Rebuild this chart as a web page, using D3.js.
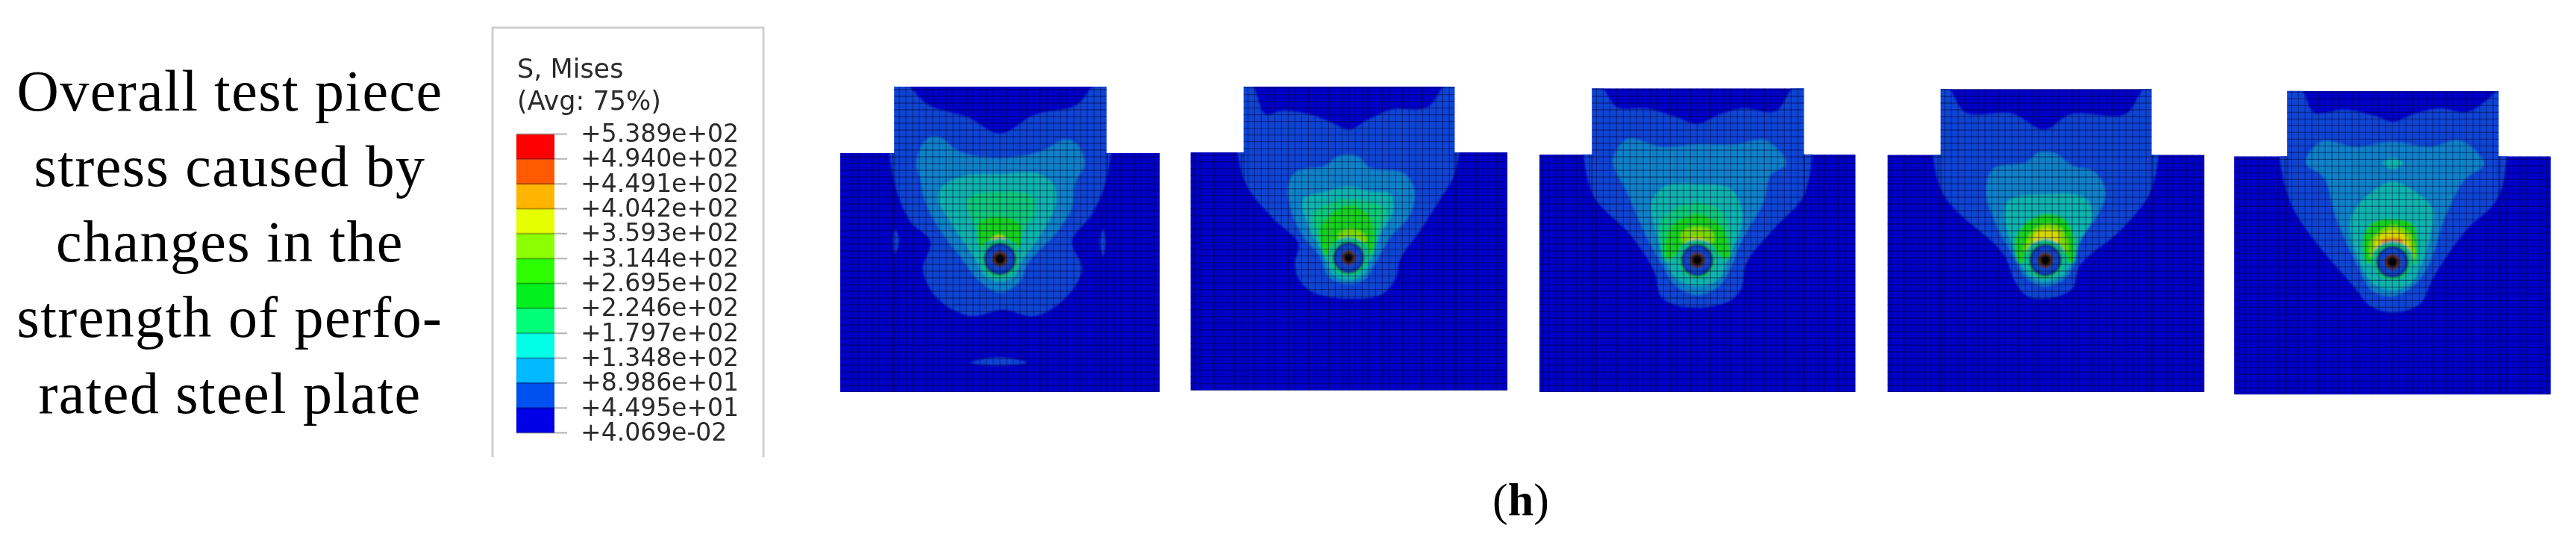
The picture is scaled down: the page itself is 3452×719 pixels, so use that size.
<!DOCTYPE html>
<html><head><meta charset="utf-8">
<script src="https://cdn.jsdelivr.net/npm/d3@7/dist/d3.min.js"></script>
<style>html,body{margin:0;background:#fff;overflow:hidden}</style></head>
<body><svg id="c" width="3452" height="719"></svg>
<script>
const captionLines = ["Overall test piece","stress caused by","changes in the","strength of perfo-","rated steel plate"];
const legendTitle = ["S, Mises","(Avg: 75%)"];
const legendTicks = ["+5.389e+02","+4.940e+02","+4.491e+02","+4.042e+02","+3.593e+02","+3.144e+02","+2.695e+02","+2.246e+02","+1.797e+02","+1.348e+02","+8.986e+01","+4.495e+01","+4.069e-02"];
const legendColors = ["#ff0000","#ff5a00","#ffb400","#e6ff00","#8cff00","#2dff00","#00f01e","#00ff78","#00ffe6","#00b9ff","#0050f0","#0000e6"];
// stress band fill for each contour level (level 0 is the lowest band)
const levelColors = ["#0000c8","#0a44d4","#0a82c8","#08b4ac","#0cc878","#14d01c","#7cd800","#d8d800","#f08000"];
const panelOrigins = [[1100,90],[1570,90],[2040,90],[2510,90],[2970,90]];
// outline: stem left, right, top, shoulder y, plate left, right, bottom; hole: cx, cy, r
const outlines = [[295,1148,78,345,78,1362,1305],[290,1138,78,342,76,1350,1298],[280,1132,85,350,68,1340,1305],[272,1120,88,352,58,1332,1305],[285,1135,95,358,72,1345,1315]];
const holes = [[720,770,62],[712,765,60],[703,775,62],[693,775,62],[708,782,62]];
const panel1 = [
 [1,[[295,70],[340,70],[430,150],[590,200],[720,265],[860,190],[1030,150],[1105,70],[1150,70],[1148,450],[1090,590],[1010,700],[1050,810],[990,920],[860,1000],[730,975],[600,1000],[460,920],[410,810],[440,700],[360,620],[295,460]]],
 [1,[[298,650],[315,690],[298,750],[290,700]]],[1,[[1135,650],[1145,700],[1135,760],[1122,700]]],
 [1,[[600,1187],[715,1165],[830,1187],[715,1198]]],
 [2,[[430,285],[470,280],[560,340],[720,365],[880,340],[990,290],[1030,310],[1060,385],[1020,470],[1010,560],[950,660],[830,790],[800,860],[720,905],[640,860],[560,760],[470,640],[420,540],[400,450],[385,380]]],
 [3,[[480,490],[560,440],[720,430],[880,430],[935,470],[945,540],[880,680],[800,790],[780,840],[720,860],[660,840],[620,770],[520,620],[475,540]]],
 [4,[[590,530],[720,500],[850,520],[860,570],[800,680],[740,760],[700,760],[640,680]]],
 [5,[[640,620],[720,600],[800,630],[790,740],[720,700],[650,740]]],
 [7,[[685,690],[720,675],[745,690],[740,705],[690,705]]]];
const panel2 = [
 [1,[[290,70],[320,70],[380,190],[440,175],[560,190],[650,225],[712,250],[790,210],[880,170],[1030,160],[1105,70],[1138,70],[1138,430],[1080,530],[990,670],[920,770],[900,850],[850,910],[712,930],[560,900],[510,850],[495,790],[510,710],[410,610],[290,450]]],
 [2,[[470,470],[500,420],[620,395],[665,360],[712,350],[760,365],[790,400],[940,430],[975,490],[960,590],[880,680],[810,800],[780,850],[712,870],[640,850],[590,750],[530,680],[480,570]]],
 [3,[[530,530],[620,500],[712,480],[800,500],[880,510],[890,580],[840,670],[800,780],[770,835],[712,855],[650,835],[610,750],[550,640]]],
 [4,[[570,590],[650,540],[712,530],[790,540],[860,570],[830,660],[795,770],[712,700],[625,770],[590,680]]],
 [5,[[600,640],[712,555],[790,590],[810,640],[795,760],[712,700],[625,760]]],
 [6,[[670,670],[712,650],[770,665],[785,695],[712,700],[675,695]]]];
const panel3 = [
 [1,[[280,78],[315,78],[380,160],[500,165],[620,200],[703,228],[790,190],[880,165],[1020,175],[1095,78],[1132,78],[1132,515],[1020,640],[900,790],[880,890],[840,935],[720,965],[600,950],[560,925],[530,820],[440,680],[280,505]]],
 [2,[[365,370],[420,290],[560,320],[703,310],[860,310],[980,295],[1060,390],[1000,430],[970,540],[880,700],[840,800],[790,880],[703,915],[620,880],[560,790],[500,680],[420,500]]],
 [3,[[520,540],[570,480],[703,470],[840,490],[880,560],[880,640],[830,760],[790,850],[703,880],[620,850],[575,770],[540,670]]],
 [4,[[560,620],[610,570],[703,545],[790,570],[830,640],[830,770],[703,720],[580,780]]],
 [5,[[590,650],[703,590],[800,640],[830,770],[703,700],[580,770]]],
 [6,[[640,665],[703,640],[760,655],[770,700],[703,710],[640,700]]],
 [7,[[670,690],[703,680],[735,690],[730,705],[675,705]]]];
const panel4 = [
 [1,[[272,80],[298,80],[370,180],[560,185],[690,250],[790,190],[1020,185],[1095,80],[1120,80],[1120,490],[1000,650],[830,800],[800,890],[700,930],[620,920],[570,860],[530,760],[272,490]]],
 [2,[[455,500],[480,410],[620,380],[660,345],[730,345],[800,395],[890,420],[935,500],[900,600],[840,680],[810,790],[770,850],[693,880],[620,850],[570,770],[490,620]]],
 [3,[[530,610],[540,540],[693,510],[860,530],[880,610],[830,700],[800,780],[760,840],[693,860],[630,840],[580,760]]],
 [5,[[570,700],[620,620],[693,590],[770,610],[810,690],[800,790],[693,700],[590,790]]],
 [6,[[630,670],[693,630],[760,650],[780,740],[693,710],[610,740]]],
 [7,[[650,670],[693,650],[745,665],[750,700],[693,705],[645,700]]]];
const panel5 = [
 [1,[[285,88],[340,88],[390,180],[520,170],[640,195],[708,218],[800,185],[900,165],[1010,180],[1090,130],[1135,90],[1135,520],[1000,660],[870,850],[820,950],[708,985],[620,960],[560,890],[285,510]]],
 [2,[[360,385],[420,300],[560,320],[708,300],[860,320],[980,295],[1075,390],[1000,450],[920,600],[850,800],[790,880],[708,920],[630,900],[560,780],[480,600],[430,440]]],
 [3,[[540,610],[640,490],[708,460],[800,500],[870,570],[860,680],[820,800],[780,870],[708,895],[630,870],[580,790]]],
 [3,[[670,385],[710,365],[750,385],[710,410]]],
 [5,[[590,700],[620,630],[708,610],[790,630],[810,730],[800,790],[708,700],[610,790]]],
 [6,[[620,700],[708,635],[780,670],[795,770],[708,710],[625,770]]],
 [7,[[640,695],[708,655],[765,680],[775,740],[708,710],[645,740]]],
 [8,[[660,700],[708,685],[750,695],[745,715],[670,715]]]];
const panels = [panel1,panel2,panel3,panel4,panel5];

const svg = d3.select("#c");
const defs = svg.append("defs");
defs.append("filter").attr("id","soft").attr("x","-5%").attr("y","-5%").attr("width","110%").attr("height","110%")
  .append("feGaussianBlur").attr("stdDeviation",1.6);
defs.append("filter").attr("id","edge").append("feGaussianBlur").attr("stdDeviation",0.6);
defs.append("filter").attr("id","txt").attr("x","-5%").attr("y","-20%").attr("width","110%").attr("height","140%")
  .append("feGaussianBlur").attr("stdDeviation",0.7);

// caption
const capY = d3.scalePoint().domain(captionLines).range([148,552.5]);
svg.append("g").selectAll("text").data(captionLines).join("text")
  .attr("x",308).attr("y",d=>capY(d)).attr("text-anchor","middle")
  .attr("font-family","'Liberation Serif',serif").attr("font-size",78).attr("letter-spacing",1.4).attr("fill","#000").text(d=>d);

// legend
const leg = svg.append("g");
leg.append("path").attr("d",d3.line()([[660,612],[660,37],[1023,37],[1023,612]]))
  .attr("fill","none").attr("stroke","#cfcfcf").attr("stroke-width",3);
const legBand = d3.scaleBand().domain(legendColors).range([180,579]);
leg.append("g").selectAll("rect").data(legendColors).join("rect")
  .attr("x",692).attr("width",51).attr("y",d=>legBand(d)).attr("height",legBand.bandwidth()+0.5).attr("fill",d=>d);
const legY = d3.scalePoint().domain(legendTicks).range([179,579]);
const axis = leg.append("g").attr("transform","translate(760,0)")
  .call(d3.axisRight(legY).tickSize(-68).tickPadding(18));
axis.select(".domain").remove();
axis.selectAll("line").attr("stroke","rgba(0,0,0,0.3)").attr("stroke-width",2);
axis.selectAll("text").attr("font-family","'DejaVu Sans'").attr("font-size",33).attr("fill","#2a2a2a").attr("filter","url(#txt)");
leg.append("g").selectAll("text").data(legendTitle).join("text")
  .attr("x",693).attr("y",(d,i)=>i?147:104).attr("font-family","'DejaVu Sans'").attr("font-size",35)
  .attr("fill","#2a2a2a").attr("filter","url(#txt)").text(d=>d);

// contour panels
panels.forEach((contours,k)=>{
  const [ox,oy] = panelOrigins[k];
  const x = d3.scaleLinear().domain([0,1440]).range([ox,ox+480]);
  const y = d3.scaleLinear().domain([0,1380]).range([oy,oy+460]);
  const [sl,sr,st,sh,pl,pr,pb] = outlines[k];
  const outline = d3.line().x(d=>x(d[0])).y(d=>y(d[1]))([[sl,st],[sr,st],[sr,sh],[pr,sh],[pr,pb],[pl,pb],[pl,sh],[sl,sh]])+"Z";
  defs.append("clipPath").attr("id","clip"+k).append("path").attr("d",outline);
  const g = svg.append("g").attr("filter","url(#edge)");
  const inner = g.append("g").attr("clip-path",`url(#clip${k})`);
  inner.append("path").attr("d",outline).attr("fill",levelColors[0]);
  const blob = inner.append("g").attr("filter","url(#soft)");
  const curve = d3.line().x(d=>x(d[0])).y(d=>y(d[1])).curve(d3.curveCatmullRomClosed.alpha(0.7));
  blob.selectAll("path").data(contours).join("path").attr("d",d=>curve(d[1])).attr("fill",d=>levelColors[d[0]]);
  const [hx,hy,hr] = holes[k];
  const rx = v=>x(hx+v)-x(hx);
  // rings round the hole
  const rings = [[hr+22,levelColors[3]],[hr+10,levelColors[5]],[hr+3,"#0a2a90"],[hr-8,"#0a46c8"],[hr-30,"#503018"],[hr-42,"#000"]];
  blob.selectAll("circle").data(rings).join("circle").attr("cx",x(hx)).attr("cy",y(hy)).attr("r",d=>rx(d[0])).attr("fill",d=>d[1]);
  // element mesh
  const mesh = inner.append("g").attr("stroke","rgba(0,0,50,0.42)").attr("stroke-width",1.3);
  const stepX=d3.range(hx-26*27,hx+27*27,27), stepY=d3.range(pb,st-27,-27);
  mesh.selectAll("line.v").data(stepX).join("line").attr("class","v")
    .attr("x1",d=>x(d)).attr("x2",d=>x(d)).attr("y1",y(st)).attr("y2",y(pb));
  mesh.selectAll("line.h").data(stepY).join("line").attr("class","h")
    .attr("x1",x(pl)).attr("x2",x(pr)).attr("y1",d=>y(d)).attr("y2",d=>y(d));
  // stem edges within plate
  inner.append("g").selectAll("line").data([sl,sr]).join("line")
    .attr("x1",d=>x(d)).attr("x2",d=>x(d)).attr("y1",y(sh)).attr("y2",y(pb))
    .attr("stroke","rgba(0,0,90,0.3)").attr("stroke-width",3);
});

// panel label
const lab = svg.append("text").attr("x",2038).attr("y",690).attr("text-anchor","middle")
  .attr("font-family","'Liberation Serif',serif").attr("font-size",62).attr("fill","#000");
lab.append("tspan").text("(");
lab.append("tspan").attr("font-weight","bold").text("h");
lab.append("tspan").text(")");
</script></body></html>
